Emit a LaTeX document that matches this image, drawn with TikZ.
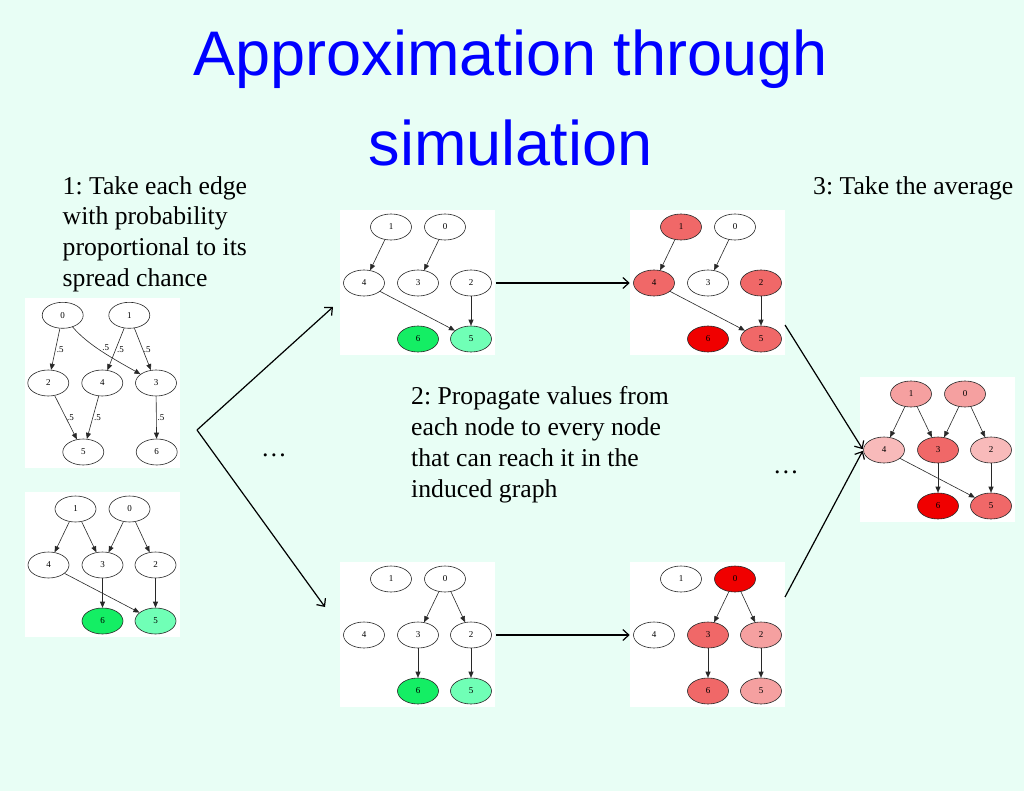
\documentclass[tikz,border=0pt]{standalone}
\usepackage{fontspec}
\setmainfont{Liberation Serif}
\newfontfamily\titlefont{Liberation Sans}
\usetikzlibrary{shapes.geometric,arrows.meta}
\frenchspacing
\definecolor{bgmint}{RGB}{232,254,245}
\definecolor{titleblue}{RGB}{0,0,255}
\definecolor{gA}{RGB}{20,238,100}
\definecolor{gB}{RGB}{112,255,182}
\definecolor{rA}{RGB}{240,0,0}
\definecolor{rB}{RGB}{240,104,104}
\definecolor{rC}{RGB}{245,160,160}
\definecolor{rD}{RGB}{248,186,186}
\definecolor{edgegray}{RGB}{40,40,40}
\tikzset{
  gn/.style={ellipse, draw=edgegray, line width=0.6pt, minimum width=41pt, minimum height=26pt, inner sep=0pt, font=\fontsize{9}{10}\selectfont},
  ge/.style={draw=edgegray, line width=0.6pt, -{Triangle[length=6pt,width=5pt]}},
  lbl/.style={font=\fontsize{9}{10}\selectfont, inner sep=1pt},
  bigarrow/.style={line width=1.2pt, -{Straight Barb[length=6pt,width=11pt]}},
  caption/.style={font=\fontsize{25.7}{30.7}\selectfont, align=left, anchor=base west, inner sep=0pt},
  dotsty/.style={font=\fontsize{25.7}{30.7}\selectfont, anchor=base, inner sep=0pt},
  titlesty/.style={font=\titlefont\fontsize{63}{75}\selectfont, text=titleblue, anchor=base, inner sep=0pt}
}
\newcommand{\gpanel}[8]{%
  \fill[white] (2,2) rectangle (157,147);
  \node[gn, fill=#2] (#1-0) at (107,19) {0};
  \node[gn, fill=#3] (#1-1) at (53,19) {1};
  \node[gn, fill=#4] (#1-2) at (133,75) {2};
  \node[gn, fill=#5] (#1-3) at (80,75) {3};
  \node[gn, fill=#6] (#1-4) at (26,75) {4};
  \node[gn, fill=#7] (#1-5) at (133,131) {5};
  \node[gn, fill=#8] (#1-6) at (80,131) {6};
}
\begin{document}
\begin{tikzpicture}[x=1pt,y=-1pt]
\fill[bgmint] (0,0) rectangle (1024,791);
\useasboundingbox (0,0) rectangle (1024,791);

% title
\node[titlesty] (title1) at (510.5,76) {Approximation through};
\node[titlesty] (title2) at (510.5,166) {simulation};

% captions (anchor = baseline of the last line)
\node[caption] (cap1) at (62.5,286.4) {1: Take each edge\\with probability\\proportional to its\\spread chance};
\node[caption] (cap2) at (411,497) {2: Propagate values from\\each node to every node\\that can reach it in the\\induced graph};
\node[caption] (cap3) at (813,194.3) {3: Take the average};
\node[dotsty] (dots1) at (274,456) {…};
\node[dotsty] (dots2) at (786,473) {…};

% panel L1 (weighted graph)
\fill[white] (25,298) rectangle (180,468);
\node[gn, fill=white] (l1-0) at (62.7,315.3) {0};
\node[gn, fill=white] (l1-1) at (129.3,315.3) {1};
\node[gn, fill=white] (l1-2) at (48.3,383) {2};
\node[gn, fill=white] (l1-4) at (102.3,383) {4};
\node[gn, fill=white] (l1-3) at (156,383) {3};
\node[gn, fill=white] (l1-5) at (83.3,452) {5};
\node[gn, fill=white] (l1-6) at (156.7,452) {6};
\draw[ge] (l1-0) -- node[lbl, anchor=west] {.5} (l1-2);
\draw[ge] (l1-0) .. controls (88,345) and (112,358) .. node[lbl, anchor=south west, inner sep=0.5pt] {.5} (l1-3);
\draw[ge] (l1-1) -- node[lbl, anchor=west] {.5} (l1-4);
\draw[ge] (l1-1) -- node[lbl, anchor=west] {.5} (l1-3);
\draw[ge] (l1-2) -- node[lbl, anchor=west] {.5} (l1-5);
\draw[ge] (l1-4) -- node[lbl, anchor=west] {.5} (l1-5);
\draw[ge] (l1-3) -- node[lbl, anchor=west] {.5} (l1-6);

% panels
\begin{scope}[shift={(22.5,490)}]\gpanel{l2}{white}{white}{white}{white}{white}{gB}{gA}\end{scope}
\begin{scope}[shift={(338,208)}]\gpanel{m1}{white}{white}{white}{white}{white}{gB}{gA}\end{scope}
\begin{scope}[shift={(628,208)}]\gpanel{r1}{white}{rB}{rB}{white}{rB}{rB}{rA}\end{scope}
\begin{scope}[shift={(338,560)}]\gpanel{m2}{white}{white}{white}{white}{white}{gB}{gA}\end{scope}
\begin{scope}[shift={(628,560)}]\gpanel{r2}{rA}{white}{rC}{rB}{white}{rC}{rB}\end{scope}
\begin{scope}[shift={(858,375)}]\gpanel{f}{rC}{rC}{rD}{rB}{rD}{rB}{rA}\end{scope}

% edges of the panels
\foreach \p in {l2,f} {
  \draw[ge] (\p-1) -- (\p-4);
  \draw[ge] (\p-1) -- (\p-3);
  \draw[ge] (\p-0) -- (\p-3);
  \draw[ge] (\p-0) -- (\p-2);
  \draw[ge] (\p-4) -- (\p-5);
  \draw[ge] (\p-3) -- (\p-6);
  \draw[ge] (\p-2) -- (\p-5);
}
\foreach \p in {m1,r1} {
  \draw[ge] (\p-1) -- (\p-4);
  \draw[ge] (\p-0) -- (\p-3);
  \draw[ge] (\p-2) -- (\p-5);
  \draw[ge] (\p-4) -- (\p-5);
}
\foreach \p in {m2,r2} {
  \draw[ge] (\p-0) -- (\p-3);
  \draw[ge] (\p-0) -- (\p-2);
  \draw[ge] (\p-3) -- (\p-6);
  \draw[ge] (\p-2) -- (\p-5);
}

% big connectors
\coordinate (split) at (197,430);
\coordinate (upend) at (333,307);
\coordinate (downend) at (325,607);
\coordinate (r1out) at (785,325);
\coordinate (r2out) at (785,597);
\draw[bigarrow] (split) -- (upend);
\draw[bigarrow] (split) -- (downend);
\draw[bigarrow, shorten <=4pt, shorten >=3.5pt] (m1-2) -- (r1-4);
\draw[bigarrow, shorten <=4pt, shorten >=3.5pt] (m2-2) -- (r2-4);
\draw[bigarrow, shorten >=1pt] (r1out) -- (f-4.west);
\draw[bigarrow, shorten >=1pt] (r2out) -- (f-4.west);
\end{tikzpicture}
\end{document}
